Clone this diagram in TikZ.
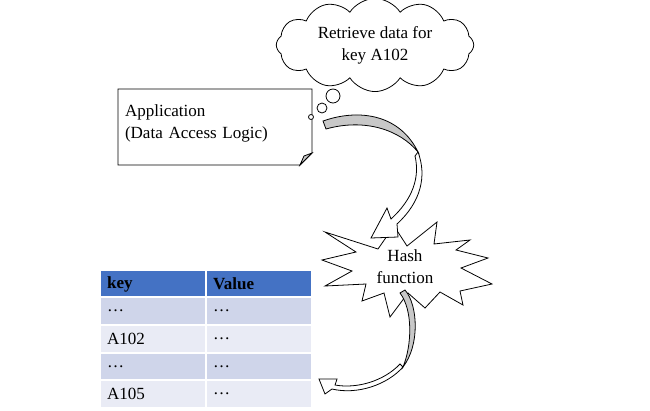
\documentclass[tikz,border=0pt]{standalone}
\usepackage{fontspec}
\setmainfont{Liberation Serif}
\usepackage{tikz}
\usetikzlibrary{shapes, shapes.symbols, positioning, calc}
\definecolor{headblue}{HTML}{4472C4}
\definecolor{rowdark}{HTML}{CFD5EA}
\definecolor{rowlight}{HTML}{E9EBF5}
\definecolor{foldgray}{HTML}{C8C8C8}
\tikzset{
  txt/.style = {font=\fontsize{9.7}{12.5}\selectfont},
  ribbon/.style = {draw=black, line width=0.45pt, fill=white, line join=miter},
  ribbonback/.style = {ribbon, fill=foldgray}
}

\begin{document}
\begin{tikzpicture}[
    x=0.02cm, y=-0.02cm,
    appbox/.style={txt, minimum width=3.88cm, minimum height=1.52cm, text width=3.6cm, align=left, inner xsep=0.14cm},
    cell/.style={txt, draw=white, line width=1.2pt, anchor=north west, minimum height=0.555cm, text width=1.84cm, inner xsep=0.14cm, align=left},
    bubble/.style={circle, draw, line width=0.45pt, fill=white, inner sep=0pt}
  ]
    \useasboundingbox (0,0) rectangle (650,410);

    \node[cloud, draw, line width=0.45pt, cloud puffs=12, cloud puff arc=115, aspect=2.6,
          minimum width=3.95cm, minimum height=1.5cm, txt, align=center] (cloud) at (375,45) {Retrieve data for\\key A102};
    \node[bubble, minimum size=0.28cm] (b1) at (333,96) {};
    \node[bubble, minimum size=0.2cm] (b2) at (322,108) {};

    \node[appbox] (app) at (215,123) {Application\\(Data Access Logic)};
    \coordinate (app-nw) at (118,89);
    \coordinate (app-ne) at (312,89);
    \coordinate (app-sw) at (118,165);
    \draw[line width=0.45pt] (app-nw) -- (app-ne) -- ($(app-ne)+(0,64)$) -- ($(app-sw)+(182,0)$) -- (app-sw) -- cycle;
    \draw[line width=0.45pt, fill=foldgray] ($(app-sw)+(182,0)$) -- ($(app-ne)+(0,64)$) -- ($(app-ne)+(-8,67)$) -- cycle;
    \node[bubble, minimum size=0.1cm] (b3) at (311,117) {};

    \draw[line width=0.45pt, fill=white] (325,232) -- (378,249) -- (394,226) -- (407,246) -- (437,222) -- (434,244)
      -- (470,240) -- (456,250) -- (488,258) -- (461,268) -- (492,284) -- (460,291) -- (463,305)
      -- (440,292) -- (425,308) -- (408,293) -- (390,317) -- (384,293) -- (362,301) -- (366,284)
      -- (325,286) -- (352,271) -- (322,260) -- (356,252) -- cycle;
    \node[txt, align=center] (hash) at (405,267) {Hash\\function};

    \draw[ribbonback] (323,121) .. controls (360,108) and (400,115) .. (418,152)
      .. controls (400,130) and (365,118) .. (326,129) -- cycle;
    \draw[ribbon] (418,152) .. controls (427,176) and (421,202) .. (397,224) -- (398,237) -- (371,238)
      -- (387,208) -- (391,219) .. controls (413,199) and (420,177) .. (415,156) -- cycle;

    \draw[ribbonback] (405,290) .. controls (418,305) and (420,345) .. (403,367)
      .. controls (412,345) and (413,310) .. (400,293) -- cycle;
    \draw[ribbon] (403,367) .. controls (387,385) and (357,395) .. (332,389) -- (325,394) -- (319,379)
      -- (337,379) -- (335,385) .. controls (357,389) and (384,381) .. (400,364) -- cycle;

    \node[cell, fill=headblue, font=\fontsize{9.7}{12.5}\selectfont\bfseries] (h1) at (99,269) {key};
    \node[cell, fill=headblue, font=\fontsize{9.7}{12.5}\selectfont\bfseries] (h2) at (205,269) {Value};
    \foreach \k/\v/\c [count=\i] in {…/…/rowdark, A102/…/rowlight, …/…/rowdark, A105/…/rowlight} {
      \node[cell, fill=\c] (k\i) at (99,{296+(\i-1)*27.75}) {\k};
      \node[cell, fill=\c] (v\i) at (205,{296+(\i-1)*27.75}) {\v};
    }

  \end{tikzpicture}
\end{document}
